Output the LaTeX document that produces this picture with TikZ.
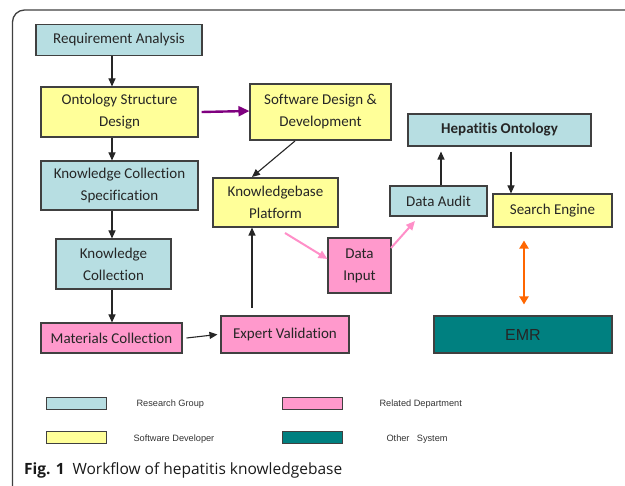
\documentclass[tikz,border=0pt]{standalone}
\usepackage{fontspec}
\setmainfont{Carlito}[Ligatures=NoCommon]
\newfontfamily\legendfont{Liberation Sans}
\newfontfamily\captionfont{Open Sans}
\usetikzlibrary{arrows.meta}
\definecolor{rgcyan}{HTML}{B7DEE2}
\definecolor{sdyellow}{HTML}{FFFF99}
\definecolor{rdpink}{HTML}{FF99CC}
\definecolor{osteal}{HTML}{008080}
\definecolor{edgegray}{HTML}{404040}
\definecolor{flowpurple}{HTML}{7F007F}
\definecolor{flowpink}{HTML}{FF8FC8}
\definecolor{floworange}{HTML}{FF6600}
\tikzset{
  box/.style={draw=edgegray, line width=1.1pt, inner sep=1pt, align=center,
    font=\fontsize{15}{22}\selectfont, text=black!85},
  research/.style={box, fill=rgcyan},
  software/.style={box, fill=sdyellow},
  related/.style={box, fill=rdpink},
  othersys/.style={box, fill=osteal, font=\legendfont\fontsize{16}{18}\selectfont},
  arr/.style={draw=black!85, line width=1.1pt, -{Triangle[length=8pt,width=7pt]}},
  pinkarr/.style={draw=flowpink, line width=2pt, -{Triangle[length=9pt,width=8pt]}},
  legbox/.style={draw=edgegray, line width=1pt, minimum width=60pt, minimum height=12pt, inner sep=0pt},
  legtext/.style={font=\legendfont\fontsize{9.2}{11}\selectfont, anchor=west, text=black!80},
}
\begin{document}
\begin{tikzpicture}[x=1pt,y=-1pt]
\useasboundingbox (0,0) rectangle (625,486);
% outer frame
\draw[line width=1.3pt, draw=black!75, rounded corners=12pt] (12.5,487) -- (12.5,10) -- (627,10);

% process boxes
\node[research, minimum width=166pt, minimum height=31pt] (ra) at (119,40) {Requirement Analysis};
\node[software, minimum width=157pt, minimum height=50pt] (osd) at (119.5,112) {Ontology Structure\\Design};
\node[software, minimum width=141pt, minimum height=56pt] (sdd) at (320.5,112) {Software Design \&\\Development};
\node[research, minimum width=157pt, minimum height=49pt] (kcs) at (119.5,185.5) {Knowledge Collection\\Specification};
\node[software, minimum width=125pt, minimum height=49pt] (kp) at (275.5,202.5) {Knowledgebase\\Platform};
\node[research, minimum width=183pt, minimum height=32pt, font=\bfseries\fontsize{15}{18}\selectfont] (ho) at (499.5,130) {Hepatitis Ontology};
\node[research, minimum width=97pt, minimum height=30pt] (da) at (438.5,201) {Data Audit};
\node[software, minimum width=119pt, minimum height=33pt] (se) at (552.5,210.5) {Search Engine};
\node[research, minimum width=115pt, minimum height=50pt] (kc) at (113.5,264) {Knowledge\\Collection};
\node[related, minimum width=63pt, minimum height=55pt] (di) at (359.5,265.5) {Data\\Input};
\node[related, minimum width=141pt, minimum height=30pt] (mc) at (111.5,338) {Materials Collection};
\node[related, minimum width=128pt, minimum height=37pt] (ev) at (285,334.5) {Expert Validation};
\node[othersys, minimum width=178pt, minimum height=37pt] (emr) at (523,334.5) {EMR};

% connectors
\coordinate (colx) at (112,0);
\draw[arr] (ra.south -| colx) -- (osd.north -| colx);
\draw[arr] (osd.south -| colx) -- (kcs.north -| colx);
\draw[arr] (kcs.south -| colx) -- (kc.north -| colx);
\draw[arr] (kc.south -| colx) -- (mc.north -| colx);
\draw[draw=flowpurple, line width=2.4pt, -{Triangle[length=11pt,width=10pt]}] ([xshift=3pt]osd.east) -- ([yshift=1pt]sdd.west);
\coordinate (sddfoot) at (295,141);
\coordinate (kphead) at (252,177);
\draw[arr] (sddfoot) -- (kphead);
\draw[arr] ([xshift=4pt]mc.east) -- ([xshift=-3pt]ev.west);
\coordinate (evtop) at (252,308);
\draw[arr] (evtop) -- (kp.south -| evtop);
\coordinate (kpfoot) at (285,233);
\draw[pinkarr] (kpfoot) -- (di.west |- 0,259);
\coordinate (ditop) at (391,248);
\coordinate (dahead) at (415,221);
\draw[pinkarr] (ditop) -- (dahead);
\coordinate (dax) at (441,0);
\draw[arr] (da.north -| dax) -- ([yshift=-5pt]ho.south -| dax);
\coordinate (sex) at (511,0);
\draw[arr] ([yshift=-5pt]ho.south -| sex) -- (se.north -| sex);
\coordinate (orx) at (524,0);
\draw[draw=floworange, line width=2.6pt, {Triangle[length=8pt,width=9pt]}-{Triangle[length=8pt,width=9pt]}] ([yshift=-13pt]se.south -| orx) -- ([yshift=11pt]emr.north -| orx);

% legend
\node[legbox, fill=rgcyan] (lg1) at (76,404) {};
\node[legtext] (lt1) at (133,404) {Research Group};
\node[legbox, fill=rdpink] (lg2) at (312,404) {};
\node[legtext] (lt2) at (376,404) {Related Department};
\node[legbox, fill=sdyellow] (lg3) at (76,438) {};
\node[legtext] (lt3) at (130,439) {Software Developer};
\node[legbox, fill=osteal] (lg4) at (312,438) {};
\node[legtext] (lt4) at (383,439) {Other\hspace{0.8em}System};

% caption
\node[anchor=west, font=\captionfont\fontsize{15.5}{18}\selectfont, text=black!90, inner sep=0pt] (cap) at (24,470) {\textbf{Fig. 1}\hspace{0.5em}Workflow of hepatitis knowledgebase};
\end{tikzpicture}
\end{document}
